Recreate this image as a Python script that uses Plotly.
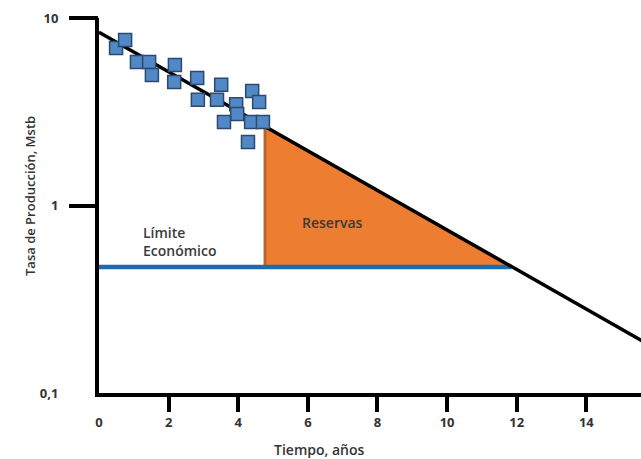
import plotly.graph_objects as go

# Observed production history (years, Mstb)
t_obs = [0.49, 0.75, 1.09, 1.44, 1.52, 2.18, 2.16, 2.82, 2.84, 3.51,
         3.39, 3.94, 3.97, 3.59, 4.40, 4.60, 4.37, 4.71, 4.28]
q_obs = [6.92, 7.64, 5.82, 5.82, 4.97, 5.61, 4.56, 4.79, 3.66, 4.40,
         3.66, 3.47, 3.08, 2.79, 4.08, 3.56, 2.79, 2.79, 2.18]

# Exponential decline (straight line on semi-log), end points
t_decline = [0.0, 15.6]
q_decline = [8.4, 0.19]

# Economic limit
t_limit = [0.0, 11.85]
q_limit = [0.47, 0.47]

# Reserves area between decline curve and economic limit
t_res = [4.77, 4.77, 11.85, 4.77]
q_res = [2.64, 0.47, 0.47, 2.64]

x_ticks = [0, 2, 4, 6, 8, 10, 12, 14]
x_tick_marks = [2, 4, 6, 8, 10, 12, 14]
y_ticks = [0.1, 1, 10]
y_tick_text = ["0,1", "1", "10"]
y_tick_marks = [1, 10]

X_RANGE = [0, 15.57]
Y_RANGE = [-1, 1]

FAMILY = "Open Sans, Liberation Sans, sans-serif"
TICK_FONT = dict(family=FAMILY, color="#333333", size=13, weight=700)
LABEL_FONT = dict(family=FAMILY, color="#3a3a3a", size=14, weight=600)
TITLE_FONT = dict(family=FAMILY, color="#333333", size=14, weight=600)

fig = go.Figure()

fig.add_trace(go.Scatter(
    x=t_res, y=q_res, mode="lines", fill="toself",
    fillcolor="#ED7D31", line=dict(color="#B8642A", width=3),
    hoverinfo="skip", showlegend=False))

fig.add_trace(go.Scatter(
    x=t_limit, y=q_limit, mode="lines",
    line=dict(color="#1F6BB0", width=4.5), showlegend=False))

fig.add_trace(go.Scatter(
    x=t_decline, y=q_decline, mode="lines",
    line=dict(color="black", width=3.5), showlegend=False))

fig.add_trace(go.Scatter(
    x=t_obs, y=q_obs, mode="markers",
    marker=dict(symbol="square", size=13, color="#5088C8",
                line=dict(color="#2E4A6B", width=1.5)),
    showlegend=False))

# Helper trace so the tick-mark axes are rendered
fig.add_trace(go.Scatter(
    x=[1], y=[1], xaxis="x2", yaxis="y2", mode="markers",
    marker=dict(opacity=0), hoverinfo="skip", showlegend=False))

fig.update_layout(
    width=641, height=459,
    margin=dict(l=99, r=0, t=18, b=66),
    paper_bgcolor="white", plot_bgcolor="white",
    font=TICK_FONT,
    xaxis=dict(range=X_RANGE, tickvals=x_ticks, ticks="", showgrid=False,
               zeroline=False, showline=True, linecolor="black", linewidth=4,
               ticklabelstandoff=14, tickfont=TICK_FONT),
    yaxis=dict(type="log", range=Y_RANGE, tickvals=y_ticks, ticktext=y_tick_text,
               ticks="", showgrid=False, zeroline=False, showline=True,
               linecolor="black", linewidth=4, ticklabelstandoff=34, tickfont=TICK_FONT),
    xaxis2=dict(range=X_RANGE, overlaying="x", anchor="y2", side="bottom",
                tickvals=x_tick_marks, ticks="outside", ticklen=18, tickwidth=3.5,
                tickcolor="black", showticklabels=False, showgrid=False,
                zeroline=False, showline=False),
    yaxis2=dict(type="log", range=Y_RANGE, overlaying="y", anchor="x2", side="left",
                tickvals=y_tick_marks, ticks="outside", ticklen=29, tickwidth=3.5,
                tickcolor="black", showticklabels=False, showgrid=False,
                zeroline=False, showline=False),
    annotations=[
        dict(text="Reservas", x=6.72, y=-0.093, xref="x", yref="y",
             showarrow=False, font=LABEL_FONT),
        dict(text="Límite<br>Económico", x=1.22, y=-0.19, xref="x", yref="y",
             xanchor="left", align="left", showarrow=False, font=LABEL_FONT),
        dict(text="Tiempo, años", x=(319 - 99) / 542, y=(393 - 450) / 375,
             xref="paper", yref="paper", xanchor="center", yanchor="middle",
             showarrow=False, font=TITLE_FONT),
        dict(text="Tasa de Producción, Mstb", x=(30 - 99) / 542, y=(393 - 196) / 375,
             xref="paper", yref="paper", xanchor="center", yanchor="middle",
             textangle=-90, showarrow=False,
             font=dict(family=FAMILY, color="#333333", size=13, weight=600)),
    ],
)

fig.write_html("out.html")
